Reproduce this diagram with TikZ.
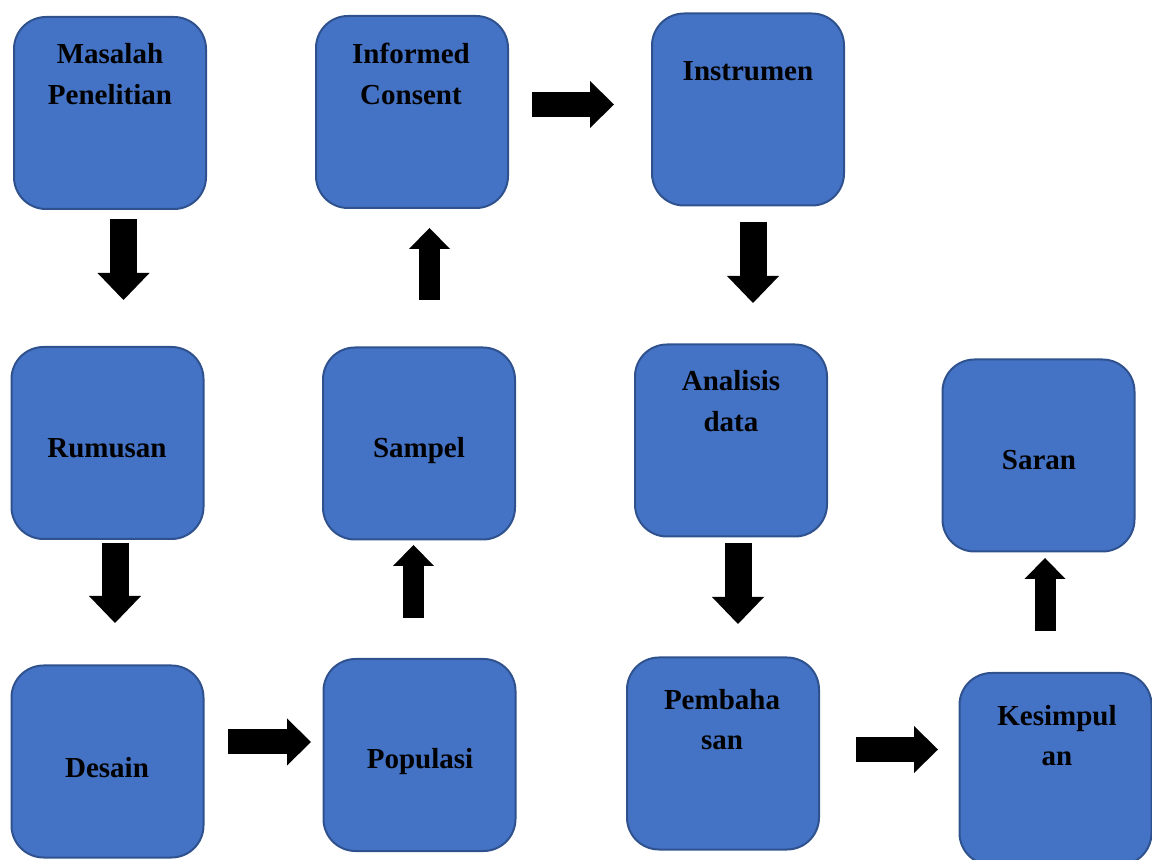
\documentclass[tikz,border=0pt]{standalone}
\usepackage{fontspec}
\setmainfont{Liberation Serif}
\usetikzlibrary{arrows.meta,calc}

\definecolor{boxfill}{HTML}{4472C4}
\definecolor{boxline}{HTML}{2F528F}

\begin{document}
\begin{tikzpicture}[x=0.5pt,y=-0.5pt,
    % Define the style for the boxes and their text
    stepbox/.style={rectangle, rounded corners=16pt, draw=boxline, line width=1pt, fill=boxfill,
        minimum width=96pt, minimum height=96pt, inner sep=0pt},
    steptext/.style={anchor=base, align=center, inner sep=0pt,
        font=\fontsize{14.5pt}{20.5pt}\selectfont\bfseries},
    % Define the style for the block arrows
    downarrow/.style={line width=13.5pt, -{Triangle[length=13.5pt, width=26pt, line width=0pt]}},
    rightarrow/.style={line width=12.5pt, -{Triangle[length=12pt, width=23.5pt, line width=0pt]}},
    uparrow/.style={line width=10.5pt, -{Triangle[length=10.5pt, width=20.5pt, line width=0pt]}}
]

\path[use as bounding box, clip] (0,0) rectangle (1152,860);

% Boxes, column by column (positions in pixels)
\node[stepbox] (masalah) at (110,113) {};
\node[stepbox] (rumusan) at (107.5,443) {};
\node[stepbox] (desain) at (107.5,761.5) {};
\node[stepbox] (populasi) at (419.5,755) {};
\node[stepbox] (sampel) at (419,443.5) {};
\node[stepbox] (informed) at (412,112) {};
\node[stepbox] (instrumen) at (748,109.5) {};
\node[stepbox] (analisis) at (731,440.5) {};
\node[stepbox] (pembahasan) at (723,753.5) {};
\node[stepbox] (kesimpulan) at (1055.5,769) {};
\node[stepbox] (saran) at (1038.5,455.5) {};

% Text of the boxes, placed on the baseline of the last line
\node[steptext] (masalah-t) at (110,105) {Masalah\\Penelitian};
\node[steptext] (rumusan-t) at (107,458) {Rumusan};
\node[steptext] (desain-t) at (107,778) {Desain};
\node[steptext] (populasi-t) at (420,769) {Populasi};
\node[steptext] (sampel-t) at (419,458) {Sampel};
\node[steptext] (informed-t) at (411,105) {Informed\\Consent};
\node[steptext] (instrumen-t) at (748,81) {Instrumen};
\node[steptext] (analisis-t) at (731,432) {Analisis\\data};
\node[steptext] (pembahasan-t) at (722,750) {Pembaha\\san};
\node[steptext] (kesimpulan-t) at (1057,766) {Kesimpul\\an};
\node[steptext] (saran-t) at (1039,470) {Saran};

% Block arrows between the boxes
\draw[downarrow] ($(masalah)+(13.5,106)$) -- ($(rumusan)+(16,-143)$);
\draw[downarrow] ($(rumusan)+(7.5,100)$) -- ($(desain)+(7.5,-138.5)$);
\draw[rightarrow] ($(desain)+(120.5,-19.5)$) -- ($(populasi)+(-108.5,-13)$);
\draw[uparrow] ($(populasi)+(-6,-137)$) -- ($(sampel)+(-5.5,101.5)$);
\draw[uparrow] ($(sampel)+(10.5,-143.5)$) -- ($(informed)+(17.5,116)$);
\draw[rightarrow] ($(informed)+(120,-7.5)$) -- ($(instrumen)+(-134,-5)$);
\draw[downarrow] ($(instrumen)+(5,112.5)$) -- ($(analisis)+(22,-137.5)$);
\draw[downarrow] ($(analisis)+(7,102.5)$) -- ($(pembahasan)+(15,-129.5)$);
\draw[rightarrow] ($(pembahasan)+(133,-4)$) -- ($(kesimpulan)+(-117.5,-19.5)$);
\draw[uparrow] ($(kesimpulan)+(-10.5,-138)$) -- ($(saran)+(6.5,102.5)$);

\end{tikzpicture}
\end{document}
